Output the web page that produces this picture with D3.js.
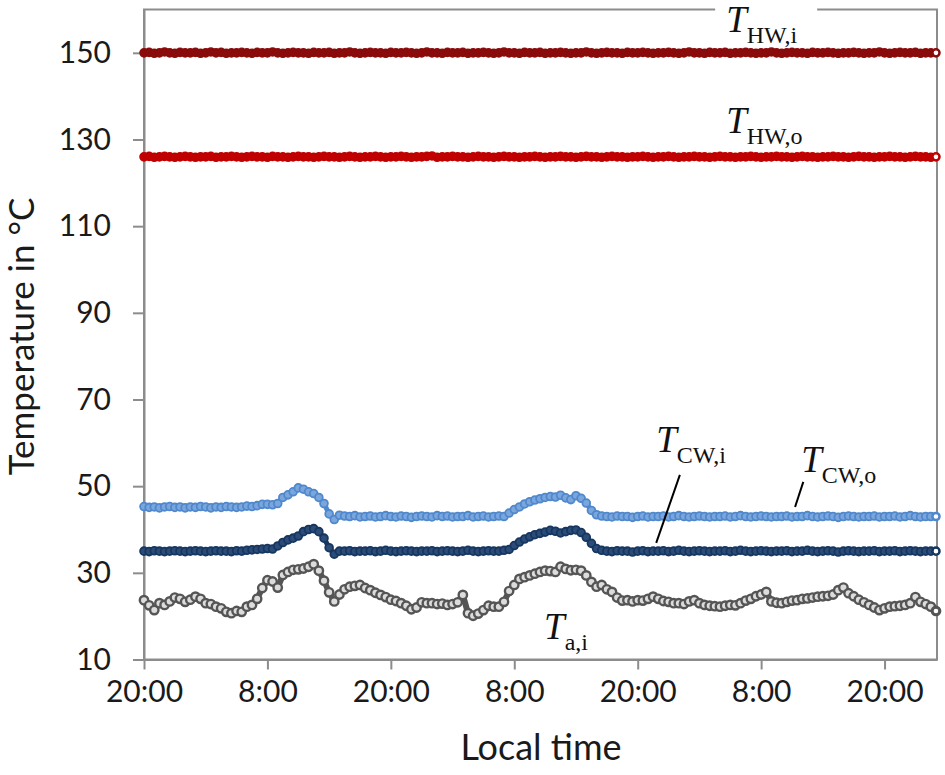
<!DOCTYPE html>
<html>
<head>
<meta charset="utf-8">
<script src="https://cdn.jsdelivr.net/npm/d3@7.9.0/dist/d3.min.js"></script>
<style>
  body { margin: 0; background: #fff; }
  svg { display: block; }
  .tick text { font-family: Lato, "Open Sans", sans-serif; fill: #1a1a1a; }
  .lbl { font-family: "Liberation Serif", "DejaVu Serif", serif; fill: #111; }
</style>
</head>
<body>
<svg id="chart" width="945" height="775"></svg>
<script>
// sampling interval of the logged series, hours after 20:00 of day 1
const stepHours = 0.5;

const timeTicks = [0, 12, 24, 36, 48, 60, 72];
const timeTickLabels = ['20:00', '8:00', '20:00', '8:00', '20:00', '8:00', '20:00'];
const tempTicks = [10, 30, 50, 70, 90, 110, 130, 150];

// hot water inlet
const tHWi = [
  150.0,150.1,149.9,150.0,150.2,150.0,149.9,150.1,150.0,150.0,
  150.1,149.9,150.0,150.2,150.0,150.1,149.9,150.0,150.0,150.1,
  150.0,149.9,150.1,150.0,150.0,150.2,150.0,149.9,150.0,150.1,
  150.0,150.0,149.9,150.1,150.0,150.0,150.1,149.9,150.0,150.0,
  150.2,150.0,149.9,150.0,150.1,150.0,150.0,149.9,150.1,150.0,
  150.0,150.1,150.0,149.9,150.0,150.2,150.0,150.0,149.9,150.1,
  150.0,150.0,150.1,149.9,150.0,150.0,150.1,150.0,149.9,150.0,
  150.2,150.0,150.0,149.9,150.1,150.0,150.0,150.1,149.9,150.0,
  150.0,150.1,150.0,149.9,150.0,150.0,150.2,150.0,149.9,150.0,
  150.1,150.0,150.0,149.9,150.1,150.0,150.0,150.1,150.0,149.9,
  150.0,150.0,150.1,150.0,149.9,150.0,150.2,150.0,150.0,149.9,
  150.1,150.0,150.0,150.1,149.9,150.0,150.0,150.1,150.0,149.9,
  150.0,150.0,150.2,150.0,149.9,150.0,150.1,150.0,150.0,149.9,
  150.1,150.0,150.0,150.1,150.0,149.9,150.0,150.0,150.1,150.0,
  149.9,150.0,150.0,150.2,150.0,149.9,150.0,150.1,150.0,150.0,
  150.1,149.9,150.0,150.0,150.0
];

// hot water outlet
const tHWo = [
  126.0,126.1,125.9,126.0,126.1,126.0,125.9,126.0,126.1,126.0,
  125.9,126.0,126.0,126.1,125.9,126.0,126.0,126.1,126.0,125.9,
  126.0,126.1,126.0,126.0,125.9,126.1,126.0,126.0,125.9,126.0,
  126.1,126.0,126.0,125.9,126.0,126.1,126.0,126.0,125.9,126.0,
  126.1,126.0,125.9,126.0,126.0,126.1,126.0,125.9,126.0,126.0,
  126.1,126.0,125.9,126.0,126.0,126.1,126.2,125.9,126.0,126.0,
  126.1,126.0,126.0,125.9,126.0,126.1,126.0,126.0,125.9,126.0,
  126.1,126.0,126.0,125.9,126.0,126.0,126.1,126.0,125.9,126.0,
  126.0,126.1,126.0,126.0,125.9,126.0,126.1,126.0,126.0,125.9,
  126.0,126.1,126.0,126.0,125.9,126.0,126.0,126.1,126.0,125.9,
  126.0,126.0,126.1,126.0,125.9,126.0,126.0,126.1,126.0,126.0,
  125.9,126.0,126.1,126.0,126.0,125.9,126.0,126.0,126.1,126.0,
  125.9,126.0,126.0,126.1,126.0,126.0,125.9,126.0,126.1,126.0,
  126.0,125.9,126.0,126.0,126.1,126.0,126.0,125.9,126.0,126.1,
  126.0,126.0,125.9,126.0,126.0,126.1,126.0,126.0,125.9,126.0,
  126.1,126.0,126.0,125.9,126.0
];

// cooling water outlet
const tCWo = [
  45.3,45.1,45.2,45.0,45.2,45.3,45.1,45.2,45.0,45.2,
  45.1,45.3,45.2,45.0,45.2,45.1,45.3,45.2,45.1,45.2,
  45.4,45.3,45.5,45.8,45.8,45.7,46.0,47.4,48.0,48.7,
  49.6,49.3,48.7,48.3,47.4,46.0,43.6,42.3,43.3,43.1,
  43.0,43.2,42.9,43.0,43.1,42.9,43.0,43.2,43.0,42.9,
  43.1,43.0,42.8,43.0,43.1,43.0,42.9,43.2,43.0,43.1,
  42.9,43.0,43.0,43.2,42.9,43.0,43.1,42.9,43.0,43.1,
  43.0,43.8,44.6,45.2,45.9,46.4,46.8,47.1,47.4,47.6,
  47.5,47.9,47.3,46.9,47.8,47.2,46.1,44.4,43.4,43.1,
  43.0,42.9,43.1,43.0,43.0,42.8,43.0,43.1,42.9,43.0,
  43.0,43.1,42.9,43.0,43.2,43.0,42.9,43.0,43.1,43.0,
  42.9,43.0,43.0,43.1,42.9,43.0,43.2,43.0,42.9,43.0,
  43.1,43.0,42.9,43.0,43.0,43.1,42.9,43.0,43.0,43.2,
  43.0,42.9,43.0,43.1,43.0,42.8,43.0,43.1,43.0,42.9,
  43.0,43.0,43.1,42.9,43.0,43.0,43.1,42.9,43.0,43.2,
  43.0,42.9,43.0,43.0,43.0
];

// cooling water inlet
const tCWi = [
  35.0,34.9,35.1,35.0,34.9,35.0,35.1,35.0,34.9,35.0,
  35.1,35.0,34.9,35.0,35.1,35.0,35.0,34.9,35.1,35.0,
  35.2,35.3,35.4,35.5,35.6,35.5,36.2,37.0,37.6,38.0,
  38.5,39.5,40.0,40.2,39.5,38.0,35.8,34.3,35.0,35.0,
  35.1,34.9,35.0,35.0,35.1,34.9,35.0,35.2,35.0,34.9,
  35.0,35.1,35.0,34.9,35.0,35.0,35.1,34.9,35.0,35.1,
  35.0,34.9,35.0,35.2,35.0,34.9,35.0,35.1,35.0,35.0,
  35.2,35.4,36.3,37.1,37.8,38.3,38.8,39.1,39.4,39.8,
  39.6,39.2,39.5,39.8,39.9,39.3,38.2,36.8,35.6,35.2,
  35.0,34.9,35.1,35.0,35.0,34.8,35.0,35.1,34.9,35.0,
  35.0,35.1,34.9,35.0,35.2,35.0,34.9,35.0,35.1,35.0,
  34.9,35.0,35.0,35.1,34.9,35.0,35.2,35.0,34.9,35.0,
  35.1,35.0,34.9,35.0,35.0,35.1,34.9,35.0,35.0,35.2,
  35.0,34.9,35.0,35.1,35.0,34.8,35.0,35.1,35.0,34.9,
  35.0,35.0,35.1,34.9,35.0,35.0,35.1,34.9,35.0,35.1,
  35.0,34.9,35.0,35.0,35.0
];

// indoor air
const tAi = [
  23.7,22.5,21.4,23.0,22.6,23.4,24.3,24.0,23.3,23.8,
  24.5,24.0,23.0,22.8,22.2,21.8,21.0,20.7,21.2,21.0,
  22.2,22.6,24.0,26.5,28.3,28.0,26.6,29.5,30.2,30.7,
  30.8,31.0,31.4,32.0,30.5,28.2,25.5,23.4,25.0,26.2,
  26.8,27.0,27.2,26.5,26.0,25.4,24.9,24.4,23.8,23.5,
  23.0,22.4,21.6,22.0,23.2,23.0,23.0,22.8,22.9,22.6,
  22.8,23.2,24.9,20.7,20.1,20.6,21.4,22.4,22.2,22.2,
  23.3,25.8,27.2,28.6,29.0,29.4,29.8,30.2,30.5,30.4,
  30.2,31.4,30.9,30.6,30.7,30.5,29.4,27.9,26.8,27.2,
  26.2,25.6,24.3,23.6,23.7,23.4,23.7,23.6,24.0,24.5,
  24.0,23.5,23.3,23.0,23.0,22.8,23.4,23.7,23.0,22.6,
  22.4,22.3,22.2,22.4,22.6,22.5,23.0,23.6,24.0,24.6,
  25.0,25.6,23.4,23.1,23.0,23.3,23.6,23.7,24.0,24.1,
  24.3,24.5,24.6,24.7,25.0,26.0,26.6,25.3,24.6,23.8,
  23.2,22.6,22.0,21.4,21.8,22.2,22.3,22.4,22.6,23.0,
  24.4,23.3,22.8,22.2,21.2
];

const series = [
  { values: tHWi, color: '#8a0b0b', fill: '#8a0b0b', band: 6, r: 4.0, sw: 1.6 },
  { values: tHWo, color: '#c00000', fill: '#c00000', band: 6, r: 4.0, sw: 1.6 },
  { values: tCWo, color: '#4f88cc', fill: '#7aa6dd', band: 5, r: 3.9, sw: 1.8 },
  { values: tCWi, color: '#16365f', fill: '#2b4b78', band: 5, r: 3.9, sw: 1.8 },
  { values: tAi,  color: '#555555', fill: '#dcdcdc', band: 6, r: 4.2, sw: 2.4 }
];

const margin = { left: 144, right: 8, top: 9.5, bottom: 115.5 };
const width = 945, height = 775;

const svg = d3.select('#chart');

const x = d3.scaleLinear().domain([0, 77.1]).range([margin.left, width - margin.right]);
const y = d3.scaleLinear().domain([10, 160]).range([height - margin.bottom, margin.top]);

// frame
svg.append('rect')
  .attr('x', x(0)).attr('y', y(160))
  .attr('width', x(77.1) - x(0)).attr('height', y(10) - y(160))
  .attr('fill', 'none').attr('stroke', '#8c8c8c').attr('stroke-width', 2);

const xAxis = svg.append('g')
  .attr('transform', `translate(0,${y(10)})`)
  .call(d3.axisBottom(x).tickValues(timeTicks)
    .tickFormat((d, i) => timeTickLabels[i])
    .tickSize(10).tickSizeOuter(0).tickPadding(11));

const yAxis = svg.append('g')
  .attr('transform', `translate(${x(0)},0)`)
  .call(d3.axisLeft(y).tickValues(tempTicks)
    .tickSize(11).tickSizeOuter(0).tickPadding(22));

[xAxis, yAxis].forEach(g => {
  g.select('.domain').attr('stroke', '#8c8c8c').attr('stroke-width', 2);
  g.selectAll('.tick line').attr('stroke', '#8c8c8c').attr('stroke-width', 2);
  g.selectAll('.tick text').attr('font-size', 30);
});

svg.append('text')
  .attr('x', 541)
  .attr('y', 760)
  .attr('text-anchor', 'middle')
  .attr('font-family', 'Lato, "Open Sans", sans-serif')
  .attr('font-size', 36)
  .attr('fill', '#1a1a1a')
  .text('Local time');

svg.append('text')
  .attr('transform', `translate(34,${(y(10) + y(160)) / 2 + 2}) rotate(-90)`)
  .attr('text-anchor', 'middle')
  .attr('font-family', 'Lato, "Open Sans", sans-serif')
  .attr('font-size', 35)
  .attr('fill', '#1a1a1a')
  .text('Temperature in °C');

// series: a band under dense open markers
const line = d3.line()
  .x((d, i) => x(i * stepHours))
  .y(d => y(d));

const plot = svg.append('g');

series.forEach(s => {
  plot.append('path')
    .datum(s.values)
    .attr('d', line)
    .attr('fill', 'none')
    .attr('stroke', s.color)
    .attr('stroke-width', s.band)
    .attr('stroke-linejoin', 'round');

  plot.selectAll(null)
    .data(s.values)
    .enter()
    .append('circle')
    .attr('cx', (d, i) => x(i * stepHours))
    .attr('cy', d => y(d))
    .attr('r', s.r)
    .attr('fill', s.fill)
    .attr('stroke', s.color)
    .attr('stroke-width', s.sw);
});

// white end markers like the reference
series.forEach(s => {
  const last = s.values.length - 1;
  plot.append('circle')
    .attr('cx', x(last * stepHours))
    .attr('cy', y(s.values[last]))
    .attr('r', 3)
    .attr('fill', '#fff')
    .attr('stroke', s.color)
    .attr('stroke-width', 1.4);
});

// labels, placed in data space (time in h, temperature in °C)
const labels = [
  { t: 56.6, v: 154.8, sub: 'HW,i', mask: true },
  { t: 56.6, v: 131.5, sub: 'HW,o' },
  { t: 49.8, v: 57.9, sub: 'CW,i' },
  { t: 63.9, v: 53.3, sub: 'CW,o' },
  { t: 38.9, v: 14.7, sub: 'a,i' }
];

const leaders = [
  { t1: 52.1, v1: 52.6, t2: 49.8, v2: 36.9 },
  { t1: 64.1, v1: 51.0, t2: 63.3, v2: 45.2 }
];

labels.filter(l => l.mask).forEach(l => {
  svg.append('rect')
    .attr('x', x(l.t) - 11).attr('y', 0)
    .attr('width', 102).attr('height', 22)
    .attr('fill', '#fff');
});

labels.forEach(l => {
  const t = svg.append('text')
    .attr('class', 'lbl')
    .attr('x', x(l.t))
    .attr('y', y(l.v));
  t.append('tspan')
    .attr('font-style', 'italic')
    .attr('font-size', 37)
    .text('T');
  t.append('tspan')
    .attr('font-size', 24)
    .attr('dy', 11)
    .text(l.sub);
});

leaders.forEach(l => {
  svg.append('line')
    .attr('x1', x(l.t1)).attr('y1', y(l.v1))
    .attr('x2', x(l.t2)).attr('y2', y(l.v2))
    .attr('stroke', '#000')
    .attr('stroke-width', 2);
});
</script>
</body>
</html>
